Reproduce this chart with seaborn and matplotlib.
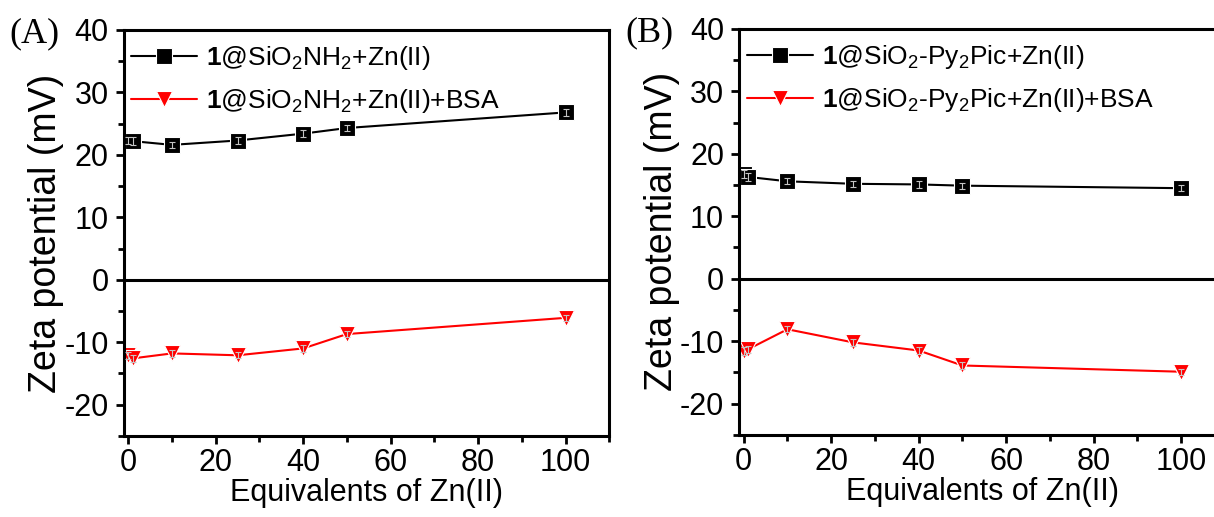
import matplotlib
matplotlib.use("Agg")
import matplotlib.pyplot as plt
from matplotlib.ticker import MultipleLocator
import seaborn as sns
import pandas as pd

# Equivalents of Zn(II)
equiv = [0, 1, 10, 25, 40, 50, 100]

# Panel A: 1@SiO2NH2
a_zn = [22.3, 22.2, 21.6, 22.3, 23.4, 24.3, 26.8]
a_zn_bsa = [-12.1, -12.6, -11.8, -12.1, -11.0, -8.7, -6.1]

# Panel B: 1@SiO2-Py2Pic
b_zn = [16.8, 16.3, 15.6, 15.2, 15.1, 14.9, 14.5]
b_zn_bsa = [-11.6, -11.3, -8.1, -10.2, -11.5, -13.9, -14.9]

# measurement spread
err = [0.6, 0.6, 0.5, 0.5, 0.6, 0.5, 0.5]

labels_a = [r"$\mathbf{1}$@SiO$_2$NH$_2$+Zn(II)",
            r"$\mathbf{1}$@SiO$_2$NH$_2$+Zn(II)+BSA"]
labels_b = [r"$\mathbf{1}$@SiO$_2$-Py$_2$Pic+Zn(II)",
            r"$\mathbf{1}$@SiO$_2$-Py$_2$Pic+Zn(II)+BSA"]
panel_tags = ["(A)", "(B)"]

sns.set_theme(style="ticks")
plt.rcParams["font.family"] = ["Liberation Sans", "DejaVu Sans"]
plt.rcParams["mathtext.fontset"] = "custom"
plt.rcParams["mathtext.rm"] = "Liberation Sans"
plt.rcParams["mathtext.it"] = "Liberation Sans"
plt.rcParams["mathtext.bf"] = "Liberation Sans:bold"
plt.rcParams["axes.unicode_minus"] = False
plt.rcParams["text.color"] = "black"
plt.rcParams["axes.labelcolor"] = "black"

fig = plt.figure(figsize=(12.14, 5.17), dpi=100)
axA = fig.add_axes([0.102, 0.157, 0.400, 0.785])
axB = fig.add_axes([0.609, 0.159, 0.400, 0.785])

panels = [
    (axA, a_zn, a_zn_bsa, labels_a, panel_tags[0]),
    (axB, b_zn, b_zn_bsa, labels_b, panel_tags[1]),
]

for ax, pos, neg, labs, tag in panels:
    df = pd.DataFrame({
        "x": equiv * 2,
        "y": pos + neg,
        "series": [labs[0]] * len(equiv) + [labs[1]] * len(equiv),
    })
    sns.lineplot(data=df, x="x", y="y", hue="series", style="series",
                 palette=["black", "red"], markers=["s", "v"], dashes=False,
                 markersize=11, markeredgewidth=0.8, linewidth=1.5, ax=ax,
                 sort=False, estimator=None)
    for vals in (pos, neg):
        ax.errorbar(equiv, vals, yerr=err, fmt="none", ecolor="#c4c4c4",
                    elinewidth=0.8, capsize=2.5, capthick=0.8, zorder=5)
    ax.axhline(0, color="black", lw=2.2, zorder=1)

    ax.set_xlim(-1, 110)
    ax.set_ylim(-25, 40)
    ax.xaxis.set_major_locator(MultipleLocator(20))
    ax.xaxis.set_minor_locator(MultipleLocator(10))
    ax.yaxis.set_major_locator(MultipleLocator(10))
    ax.yaxis.set_minor_locator(MultipleLocator(5))
    ax.tick_params(which="major", length=6, width=2, labelsize=22, pad=5,
                   direction="out", colors="black")
    ax.tick_params(axis="x", which="major", pad=3)
    ax.tick_params(which="minor", length=4, width=2, direction="out",
                   colors="black")
    for s in ax.spines.values():
        s.set_linewidth(2.2)
        s.set_visible(True)
        s.set_color("black")
    ax.set_xlabel("Equivalents of Zn(II)", fontsize=22, labelpad=0)
    ax.set_ylabel("Zeta potential (mV)", fontsize=27, labelpad=0)

    ax.legend(loc="upper left", frameon=False, fontsize=19,
              handlelength=2.5, handletextpad=0.35, labelspacing=0.55,
              borderaxespad=0.15, bbox_to_anchor=(-0.015, 1.0))
    ax.text(-0.235, 1.03, tag, transform=ax.transAxes, fontsize=26,
            family="Liberation Serif", va="top", ha="left")

fig.savefig("out.png", dpi=100)
